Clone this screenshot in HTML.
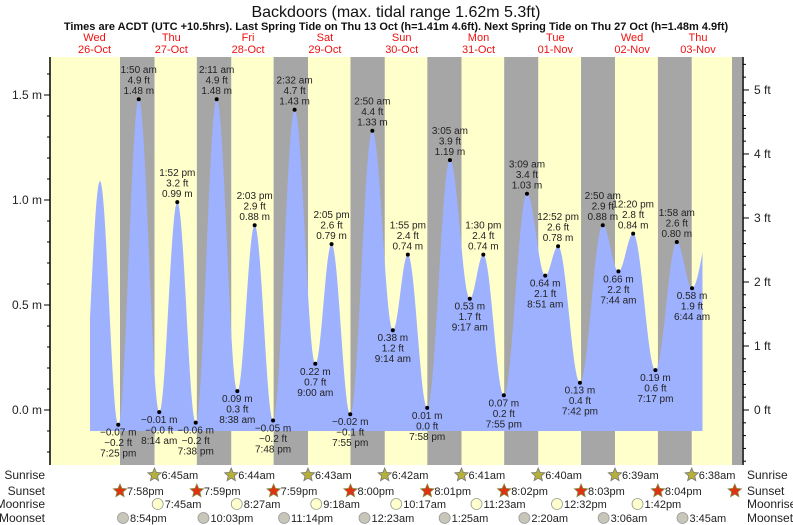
<!DOCTYPE html>
<html><head><meta charset="utf-8"><style>
body{margin:0;background:#fff;}
svg{display:block;font-family:"Liberation Sans",sans-serif;}
</style></head><body>
<svg id="chart" width="793" height="525" viewBox="0 0 793 525" xmlns="http://www.w3.org/2000/svg">
<text x="396" y="17" text-anchor="middle" font-size="16" fill="#111">Backdoors (max. tidal range 1.62m 5.3ft)</text>
<text x="396" y="30" text-anchor="middle" font-size="11" font-weight="bold" fill="#111">Times are ACDT (UTC +10.5hrs). Last Spring Tide on Thu 13 Oct (h=1.41m 4.6ft). Next Spring Tide on Thu 27 Oct (h=1.48m 4.9ft)</text>
<g id="bg"></g><g id="fill"></g><g id="axes"></g><g id="labels"></g><g id="astro"></g>
</svg>
<script>
// tide extremes: hours since Wed 26-Oct 00:00
const tideTimes=[8.0,13.7,19.42,25.83,32.23,37.87,43.63,50.18,56.63,62.05,67.8,74.53,81,86.08,91.92,98.83,105.23,109.92,115.97,123.08,129.28,133.5,139.92,147.15,152.85,156.87,163.7,170.83,175.73,180.33,187.28,193.97,198.73,205.0];
const tideHeights=[-0.05,1.09,-0.07,1.48,-0.01,0.99,-0.06,1.48,0.09,0.88,-0.05,1.43,0.22,0.79,-0.02,1.33,0.38,0.74,0.01,1.19,0.53,0.74,0.07,1.03,0.64,0.78,0.13,0.88,0.66,0.84,0.19,0.80,0.58,0.90];
const tideLabels=[null,null,"7:25 pm","1:50 am","8:14 am","1:52 pm","7:38 pm","2:11 am","8:38 am","2:03 pm","7:48 pm","2:32 am","9:00 am","2:05 pm","7:55 pm","2:50 am","9:14 am","1:55 pm","7:58 pm","3:05 am","9:17 am","1:30 pm","7:55 pm","3:09 am","8:51 am","12:52 pm","7:42 pm","2:50 am","7:44 am","12:20 pm","7:17 pm","1:58 am","6:44 am",null];
const dayNames=["Wed","Thu","Fri","Sat","Sun","Mon","Tue","Wed","Thu"];
const dayDates=["26-Oct","27-Oct","28-Oct","29-Oct","30-Oct","31-Oct","01-Nov","02-Nov","03-Nov"];
const sunriseT=[30.75,54.73,78.72,102.7,126.68,150.67,174.65,198.63];
const sunriseL=["6:45am","6:44am","6:43am","6:42am","6:41am","6:40am","6:39am","6:38am"];
const sunsetT=[19.97,43.98,67.98,92.0,116.02,140.03,164.05,188.07,212.08];
const sunsetL=["7:58pm","7:59pm","7:59pm","8:00pm","8:01pm","8:02pm","8:03pm","8:04pm",null];
const moonriseT=[31.75,56.45,81.3,106.28,131.38,156.53,181.7];
const moonriseL=["7:45am","8:27am","9:18am","10:17am","11:23am","12:32pm","1:42pm"];
const moonsetT=[20.9,46.05,71.23,96.38,121.42,146.33,171.1,195.75];
const moonsetL=["8:54pm","10:03pm","11:14pm","12:23am","1:25am","2:20am","3:06am","3:45am"];
const mTicks=[0.0,0.5,1.0,1.5];
const ftTicks=[0,1,2,3,4,5];

const NS="http://www.w3.org/2000/svg";
const X0=50,X1=742,YT=57,YB=465;
const tx=t=>56.1+3.2*t;
const ym=v=>410-210*v;
const tOf=x=>(x-56.1)/3.2;
function el(tag,attrs,parent,text){const e=document.createElementNS(NS,tag);for(const k in attrs)e.setAttribute(k,attrs[k]);if(text!=null)e.textContent=text;parent.appendChild(e);return e;}
const bg=document.getElementById('bg'),fill=document.getElementById('fill'),axes=document.getElementById('axes'),lab=document.getElementById('labels'),astro=document.getElementById('astro');

let r=el('rect',{x:X0,y:YT,width:X1-X0,height:YB-YT,fill:'#ffffcc'},bg);


for(let i=0;i<sunsetT.length;i++){
  const a=tx(sunsetT[i]);const b=i<sunriseT.length?tx(sunriseT[i]):X1;
  const n=el('rect',{x:a,y:YT,width:Math.min(b,X1)-a,height:YB-YT,fill:'#a6a6a6'},bg);
  
  
}
// tide curve
function h(t){
  for(let i=0;i<tideTimes.length-1;i++){
    if(t>=tideTimes[i]&&t<=tideTimes[i+1]){
      const f=(t-tideTimes[i])/(tideTimes[i+1]-tideTimes[i]);
      return tideHeights[i]+(tideHeights[i+1]-tideHeights[i])*(1-Math.cos(Math.PI*f))/2;
    }
  }
  return tideHeights[0];
}
const xs=90,xe=702.5,base=ym(-0.1);
let d=`M${xs},${base}`;
for(let x=xs;x<=xe;x+=0.5){d+=` L${x},${ym(h(tOf(x))).toFixed(2)}`;}
d+=` L${xe},${base} Z`;
const p=el('path',{d:d,fill:'#9eb1ff'},fill);


// axes
let al=el('line',{x1:X0,y1:YT,x2:X0,y2:YB,stroke:'#000','stroke-width':1.5},axes);


let ar=el('line',{x1:X1+1,y1:YT,x2:X1+1,y2:YB,stroke:'#000','stroke-width':1.5},axes);


el('rect',{x:X1-10,y:YT,width:10,height:YB-YT,fill:'#a6a6a6'},bg);
for(let v=-0.3;v<=1.71;v+=0.1){const y=ym(v);if(y<YT||y>YB)continue;const mj=mTicks.some(m=>Math.abs(m-v)<1e-6);
  el('line',{x1:X0-(mj?6:3),y1:y,x2:X0,y2:y,stroke:'#000'},axes);}
mTicks.forEach(v=>{const t=el('text',{x:X0-8,y:ym(v)+4,'text-anchor':'end','font-size':12,fill:'#222'},axes,v.toFixed(1)+' m');
  
  });
for(let f=-1;f<=5.6;f+=0.2){const y=ym(f*0.3048);if(y<YT||y>YB)continue;const mj=Math.abs(f-Math.round(f))<1e-6;
  el('line',{x1:X1+1,y1:y,x2:X1+1+(mj?6:3),y2:y,stroke:'#000'},axes);}
ftTicks.forEach(f=>{const t=el('text',{x:X1+12,y:ym(f*0.3048)+4,'font-size':12,fill:'#222'},axes,f+' ft');
  
  });
// day labels
dayNames.forEach((n,i)=>{let x=tx(i*24+12);if(x>700)x=698;
  const a=el('text',{x:x,y:41,'text-anchor':'middle','font-size':11,fill:'#ee1111'},axes,n);
  
  
  const b=el('text',{x:x,y:53,'text-anchor':'middle','font-size':11,fill:'#ee1111'},axes,dayDates[i]);
  
  });
// tide labels
for(let i=0;i<tideTimes.length;i++){
  if(!tideLabels[i])continue;
  const x=tx(tideTimes[i]),y=ym(tideHeights[i]),v=tideHeights[i];
  const high=(i+1<tideHeights.length?v>tideHeights[i+1]:v>tideHeights[i-1]);
  const dot=el('circle',{cx:x,cy:y,r:2,fill:'#000'},lab);
  
  
  const m=(v<0?'\u2212'+Math.abs(v).toFixed(2):v.toFixed(2))+' m';
  const fv=v/0.3048;const ft=(fv<0?'\u2212'+Math.abs(fv).toFixed(1):fv.toFixed(1))+' ft';
  const lines=high?[tideLabels[i],ft,m]:[m,ft,tideLabels[i]];
  const y0=high?y-26:y+11;
  lines.forEach((s,k)=>{const t=el('text',{x:x,y:y0+k*10.5,'text-anchor':'middle','font-size':10,fill:'#222'},lab,s);
    
    });
}
// astro rows
const rows=[["Sunrise",475],["Sunset",491],["Moonrise",504],["Moonset",518]];
rows.forEach(([n,y])=>{
  const a=el('text',{x:45,y:y+4,'text-anchor':'end','font-size':12,fill:'#222'},astro,n);
  
  
  const b=el('text',{x:747,y:y+4,'font-size':12,fill:'#222'},astro,n);
  
  });
function star(cx,cy,col,stroke){let pts=[];for(let k=0;k<10;k++){const rr=k%2?3.2:7;const a=-Math.PI/2+k*Math.PI/5;pts.push((cx+rr*Math.cos(a)).toFixed(1)+','+(cy+rr*Math.sin(a)).toFixed(1));}
  return el('polygon',{points:pts.join(' '),fill:col,stroke:stroke,'stroke-width':0.8},astro);}
function row(ts,ls,y,kind){ts.forEach((t,i)=>{const x=tx(t);if(x>X1)return;let ic;
  if(kind==='sr')ic=star(x,y,'#b5b03a','#777');else if(kind==='ss')ic=star(x,y,'#dd3311','#884');
  else ic=el('circle',{cx:x,cy:y,r:5.5,fill:kind==='mr'?'#ffffcc':'#c8c6b8',stroke:'#999','stroke-width':0.8},astro);
  
  
  if(ls[i]){const tt=el('text',{x:x+7,y:y+4,'font-size':11,fill:'#222'},astro,ls[i]);
    
    }});}
row(sunriseT,sunriseL,475,'sr');row(sunsetT,sunsetL,491,'ss');row(moonriseT,moonriseL,504,'mr');row(moonsetT,moonsetL,518,'ms');
</script>
</body></html>
